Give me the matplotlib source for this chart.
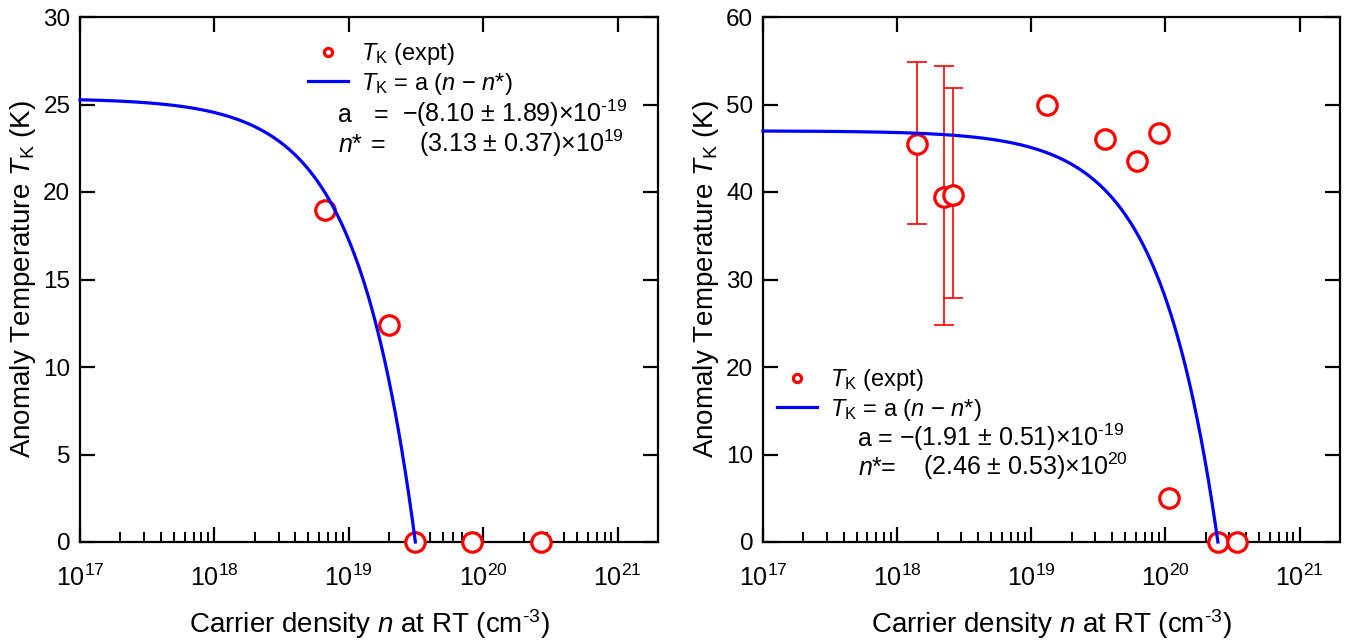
import numpy as np
import matplotlib
matplotlib.use("Agg")
import matplotlib.pyplot as plt

plt.rcParams['font.family'] = ['Liberation Sans', 'DejaVu Sans']
plt.rcParams['mathtext.fontset'] = 'custom'
plt.rcParams['mathtext.rm'] = 'Liberation Sans'
plt.rcParams['mathtext.it'] = 'Liberation Sans:italic'
plt.rcParams['mathtext.bf'] = 'Liberation Sans:bold'

# ---------------- data ----------------
# left panel
n_left = [6.6e18, 2.0e19, 3.1e19, 8.2e19, 2.7e20]
T_left = [19.0, 12.4, 0.0, 0.0, 0.0]
a_left = -8.10e-19
nstar_left = 3.13e19

# right panel
n_right = [1.41e18, 2.25e18, 2.60e18, 1.32e19, 3.56e19, 6.1e19, 8.95e19, 1.06e20, 2.46e20, 3.39e20]
T_right = [45.5, 39.4, 39.7, 49.9, 46.1, 43.5, 46.8, 5.0, 0.0, 0.0]
n_err = [1.41e18, 2.25e18, 2.60e18]
T_err = [45.5, 39.4, 39.7]
T_err_low = [36.3, 24.8, 27.9]
T_err_high = [54.9, 54.4, 51.9]
a_right = -1.91e-19
nstar_right = 2.46e20

x_limits = (1e17, 2e21)
x_ticks = [1e17, 1e18, 1e19, 1e20, 1e21]
y_ticks_left = [0, 5, 10, 15, 20, 25, 30]
y_ticks_right = [0, 10, 20, 30, 40, 50, 60]

fit_label = r'$T_\mathrm{K}$ = a ($n$ − $n$*)'
data_label = r'$T_\mathrm{K}$ (expt)'
xlabel = r'Carrier density $n$ at RT (cm$^{\text{-}3}$)'
ylabel = r'Anomaly Temperature $T_\mathrm{K}$ (K)'

RED = '#ff0000'
BLUE = '#0000ff'

W, H = 1348, 641
fig = plt.figure(figsize=(W / 100, H / 100), dpi=100)


def px_axes(x0, x1, y0, y1):
    return [x0 / W, (H - y1) / H, (x1 - x0) / W, (y1 - y0) / H]


axL = fig.add_axes(px_axes(80, 658, 17, 542))
axR = fig.add_axes(px_axes(763, 1340, 17, 542))


def style(ax, ymax, yticks):
    ax.set_xscale('log')
    ax.set_xlim(*x_limits)
    ax.set_ylim(0, ymax)
    ax.set_xticks(x_ticks)
    ax.set_yticks(yticks)
    for s in ax.spines.values():
        s.set_linewidth(1.6)
    ax.tick_params(which='major', direction='in', top=True, right=True,
                   length=11, width=1.6, labelsize=17.5)
    ax.tick_params(axis='x', which='major', pad=16, labelsize=18)
    ax.tick_params(axis='y', which='major', pad=7)
    ax.tick_params(which='minor', direction='in', top=False, right=False,
                   length=7, width=1.4)
    ax.set_xlabel(xlabel, fontsize=20, labelpad=12)
    ax.set_ylabel(ylabel, fontsize=20, labelpad=4)


def fit_curve(ax, a, nstar):
    n_fit = np.logspace(17, np.log10(nstar), 500)
    ax.plot(n_fit, a * (n_fit - nstar), color=BLUE, lw=2.3, zorder=4,
            label=fit_label, clip_on=False)


# ---------- left ----------
style(axL, 30, y_ticks_left)
axL.plot(n_left, T_left, 'o', ms=14, mfc='white', mec=RED, mew=2.3,
         zorder=3, clip_on=False, label=data_label)
fit_curve(axL, a_left, nstar_left)
legL = axL.legend(loc='upper left', bbox_to_anchor=((308 - 80) / 578, (542 - 41) / 525),
                  frameon=False, fontsize=17, markerscale=0.42, handlelength=1.7,
                  handletextpad=0.55, borderpad=0, borderaxespad=0, labelspacing=0.15)


def ptext(ax, x0, x1, xp, yp, s):
    ax.text((xp - x0) / (x1 - x0), (542 - yp) / 525, s, transform=ax.transAxes,
            fontsize=18, ha='left', va='baseline')


ptext(axL, 80, 658, 338, 122, 'a')
ptext(axL, 80, 658, 374, 122, '=')
ptext(axL, 80, 658, 402, 122, r'−(8.10 ± 1.89)×10$^{\text{-}19}$')
ptext(axL, 80, 658, 338, 152, r'$n$*')
ptext(axL, 80, 658, 371, 152, '=')
ptext(axL, 80, 658, 419, 152, r'(3.13 ± 0.37)×10$^{19}$')

# ---------- right ----------
style(axR, 60, y_ticks_right)
low = np.array(T_err) - np.array(T_err_low)
high = np.array(T_err_high) - np.array(T_err)
axR.errorbar(n_err, T_err, yerr=[low, high], fmt='none', ecolor=RED,
             elinewidth=1.2, capsize=7, capthick=1.2, zorder=2)
axR.plot(n_right, T_right, 'o', ms=14, mfc='white', mec=RED, mew=2.3,
         zorder=3, clip_on=False, label=data_label)
fit_curve(axR, a_right, nstar_right)
legR = axR.legend(loc='upper left', bbox_to_anchor=((777 - 763) / 577, (542 - 367) / 525),
                  frameon=False, fontsize=17, markerscale=0.42, handlelength=1.7,
                  handletextpad=0.55, borderpad=0, borderaxespad=0, labelspacing=0.15)

ptext(axR, 763, 1340, 858, 446, 'a')
ptext(axR, 763, 1340, 878, 446, '=')
ptext(axR, 763, 1340, 899, 446, r'−(1.91 ± 0.51)×10$^{\text{-}19}$')
ptext(axR, 763, 1340, 858, 475, r'$n$*')
ptext(axR, 763, 1340, 881, 475, '=')
ptext(axR, 763, 1340, 923, 475, r'(2.46 ± 0.53)×10$^{20}$')

fig.savefig('out.png', dpi=100)
